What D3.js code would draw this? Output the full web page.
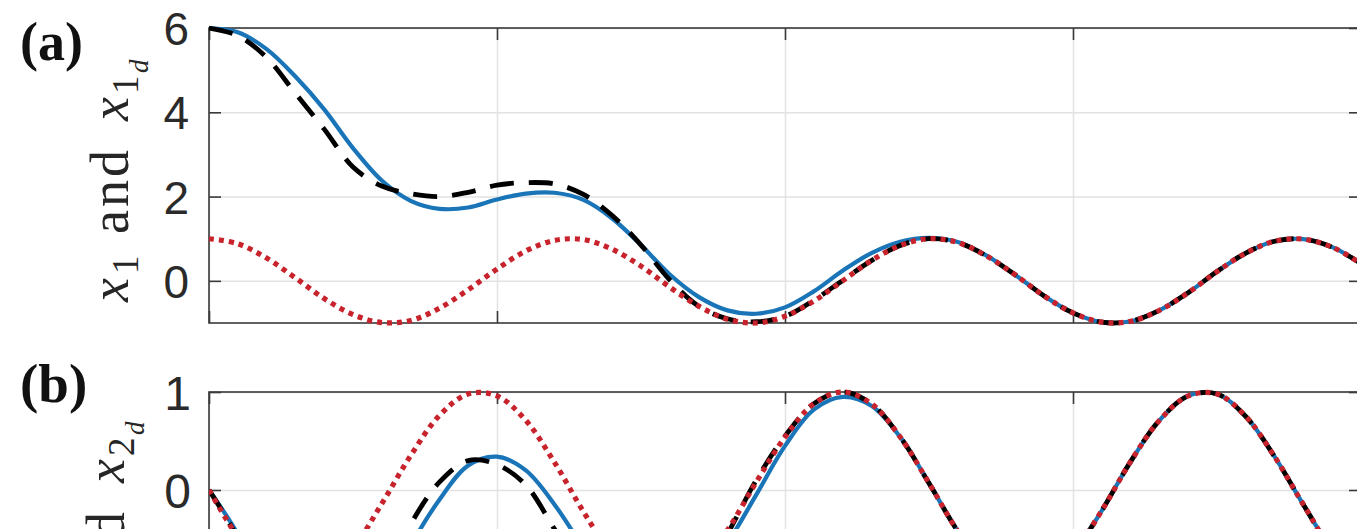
<!DOCTYPE html>
<html>
<head>
<meta charset="utf-8">
<script src="https://cdn.jsdelivr.net/npm/d3@7"></script>
<style>
  body { margin: 0; background: #fff; overflow: hidden; }
  svg { display: block; }
</style>
</head>
<body>
<div id="chart"></div>
<script>
// time samples (s)
var timeSteps = [0, 0.5, 1, 1.5, 2, 2.5, 3, 3.5, 4, 4.5, 5, 5.5, 6, 6.5, 7, 7.5, 8, 8.5, 9, 9.5,
  10, 10.5, 11, 11.5, 12, 12.5, 13, 13.5, 14, 14.5, 15, 15.5, 16, 16.5, 17, 17.5, 18, 18.5, 19, 19.5, 20];

// panel (a): x1 (solid), comparison (dashed), x1d (dotted)
var x1Actual = [6.0, 5.9, 5.5, 4.85, 4.07, 3.15, 2.38, 1.9, 1.71, 1.74, 1.93, 2.07, 2.09, 1.92, 1.48, 0.85, 0.15, -0.38, -0.7, -0.78,
  -0.63, -0.25, 0.24, 0.66, 0.93, 1.02, 0.92, 0.6, 0.14, -0.36, -0.76, -0.98, -0.96, -0.7, -0.28, 0.22, 0.66, 0.94, 0.99, 0.8, 0.41];
var x1Dashed = [6.0, 5.82, 5.3, 4.45, 3.6, 2.7, 2.25, 2.07, 2.0, 2.1, 2.27, 2.33, 2.3, 2.05, 1.55, 0.85, 0.02, -0.6, -0.9, -0.97,
  -0.84, -0.46, 0.01, 0.48, 0.84, 1.0, 0.91, 0.59, 0.14, -0.36, -0.76, -0.98, -0.96, -0.7, -0.28, 0.22, 0.66, 0.94, 0.99, 0.8, 0.41];
var x1Desired = [1.0, 0.88, 0.54, 0.07, -0.42, -0.8, -0.99, -0.94, -0.65, -0.21, 0.28, 0.71, 0.96, 0.98, 0.75, 0.35, -0.15, -0.6, -0.91, -1.0,
  -0.84, -0.48, 0.0, 0.48, 0.84, 1.0, 0.91, 0.59, 0.14, -0.36, -0.76, -0.98, -0.96, -0.7, -0.28, 0.22, 0.66, 0.94, 0.99, 0.8, 0.41];

// panel (b): x2 (solid), comparison (dashed), x2d (dotted)
var x2Actual = [0, -0.45, -1.05, -1.5, -1.75, -1.7, -1.3, -0.58, -0.1, 0.25, 0.34, 0.2, -0.15, -0.6, -1.1, -1.35, -1.3, -1.0, -0.55, -0.05,
  0.45, 0.82, 0.95, 0.86, 0.54, 0.07, -0.42, -0.8, -0.99, -0.94, -0.65, -0.21, 0.29, 0.71, 0.96, 0.98, 0.75, 0.34, -0.15, -0.61, -0.91];
var x2Dashed = [0, -0.5, -1.3, -1.75, -1.7, -1.35, -0.95, -0.35, 0.08, 0.3, 0.26, 0.05, -0.4, -0.85, -1.25, -1.45, -1.35, -0.95, -0.45, 0.1,
  0.55, 0.88, 1.0, 0.88, 0.54, 0.07, -0.42, -0.8, -0.99, -0.94, -0.65, -0.21, 0.29, 0.71, 0.96, 0.98, 0.75, 0.34, -0.15, -0.61, -0.91];
var x2Desired = [0, -0.48, -0.84, -1.0, -0.91, -0.6, -0.14, 0.35, 0.76, 0.98, 0.96, 0.71, 0.28, -0.22, -0.66, -0.94, -0.99, -0.8, -0.41, 0.08,
  0.54, 0.88, 1.0, 0.88, 0.54, 0.07, -0.42, -0.8, -0.99, -0.94, -0.65, -0.21, 0.29, 0.71, 0.96, 0.98, 0.75, 0.34, -0.15, -0.61, -0.91];

var xTicks = [0, 5, 10, 15, 20];
var yTicksA = [0, 2, 4, 6];
var yTicksB = [0, 1];

var svgWidth = 1357;
var svgHeight = 529;

var svg = d3.select("#chart")
  .append("svg")
  .attr("width", svgWidth)
  .attr("height", svgHeight);

var xScale = d3.scaleLinear()
  .domain([0, 20])
  .range([209, 1361]);

var axisColor = "#3a3a3a";
var gridColor = "#e2e2e2";
var tickLen = 12;

function drawPanel(p) {
  var yScale = d3.scaleLinear().domain(p.domain).range([p.bottom, p.top]);
  var left = xScale.range()[0], right = xScale.range()[1];

  var g = svg.append("g");

  // grid
  g.append("g")
    .attr("transform", `translate(0, ${p.bottom})`)
    .call(d3.axisBottom(xScale).tickValues(xTicks).tickSize(-(p.bottom - p.top)).tickFormat(""))
    .call(a => a.select(".domain").remove())
    .selectAll("line").attr("stroke", gridColor).attr("stroke-width", 1.5);
  g.append("g")
    .attr("transform", `translate(${left}, 0)`)
    .call(d3.axisLeft(yScale).tickValues(p.ticks).tickSize(-(right - left)).tickFormat(""))
    .call(a => a.select(".domain").remove())
    .selectAll("line").attr("stroke", gridColor).attr("stroke-width", 1.5);

  // box
  g.append("rect")
    .attr("x", left).attr("y", p.top)
    .attr("width", right - left).attr("height", p.bottom - p.top)
    .attr("fill", "none").attr("stroke", axisColor).attr("stroke-width", 1.6);

  // inward ticks on all four sides
  var axes = [
    [d3.axisBottom(xScale).tickValues(xTicks).tickSize(-tickLen).tickFormat(""), `translate(0, ${p.bottom})`],
    [d3.axisTop(xScale).tickValues(xTicks).tickSize(-tickLen).tickFormat(""), `translate(0, ${p.top})`],
    [d3.axisRight(yScale).tickValues(p.ticks).tickSize(-tickLen).tickFormat(""), `translate(${right}, 0)`],
    [d3.axisLeft(yScale).tickValues(p.ticks).tickSize(-tickLen).tickPadding(p.pad).tickFormat(d3.format("d")), `translate(${left}, 0)`]
  ];
  axes.forEach(function(a) {
    var ax = g.append("g").attr("transform", a[1]).call(a[0]);
    ax.select(".domain").remove();
    ax.selectAll("line").attr("stroke", axisColor).attr("stroke-width", 1.6);
    ax.selectAll("text")
      .attr("fill", "#2a2a2a")
      .attr("font-family", "'Liberation Sans', Arial, sans-serif")
      .attr("font-size", p.fontSize)
      .attr("dy", "0.36em");
  });

  // curves
  var clipId = "clip-" + p.name;
  svg.append("clipPath").attr("id", clipId)
    .append("rect")
    .attr("x", left).attr("y", p.top - 5)
    .attr("width", right - left).attr("height", p.bottom - p.top + 10);

  var line = d3.line()
    .x((d, i) => xScale(timeSteps[i]))
    .y(d => yScale(d))
    .curve(d3.curveCatmullRom.alpha(0.5));

  var lines = g.append("g").attr("clip-path", `url(#${clipId})`).attr("fill", "none");
  lines.append("path").datum(p.actual)
    .attr("d", line).attr("stroke", "#1A75B8").attr("stroke-width", 4.2);
  lines.append("path").datum(p.dashed)
    .attr("d", line).attr("stroke", "#000").attr("stroke-width", 4.8)
    .attr("stroke-dasharray", "24,15");
  lines.append("path").datum(p.desired)
    .attr("d", line).attr("stroke", "#C8232C").attr("stroke-width", 5.2)
    .attr("stroke-dasharray", "5,5");

  // panel letter
  svg.append("text")
    .attr("x", 20).attr("y", p.letterY)
    .attr("font-family", "'Liberation Serif', 'Times New Roman', serif")
    .attr("font-weight", "bold")
    .attr("font-size", p.letterSize)
    .attr("fill", "#111")
    .text(`(${p.name})`);

  // y label: x_k and x_{k_d}
  var lab = svg.append("text")
    .attr("transform", `translate(${p.labelX}, ${p.labelY}) rotate(-90)`)
    .attr("font-family", "'Liberation Serif', 'Times New Roman', serif")
    .attr("font-size", 54)
    .attr("fill", "#262626");
  lab.append("tspan").attr("x", 0).attr("y", 0).attr("font-style", "italic").text("x");
  lab.append("tspan").attr("x", 28).attr("y", 10).attr("font-size", 37).text(p.index);
  lab.append("tspan").attr("x", 68).attr("y", 0).attr("letter-spacing", 3).text("and");
  lab.append("tspan").attr("x", 181).attr("y", 0).attr("font-style", "italic").text("x");
  lab.append("tspan").attr("x", 208).attr("y", 10).attr("font-size", 37).text(p.index);
  lab.append("tspan").attr("x", 229).attr("y", 20).attr("font-size", 27).attr("font-style", "italic").text("d");
}

drawPanel({
  name: "a", index: "1", top: 28, bottom: 323, domain: [-1, 6], ticks: yTicksA,
  actual: x1Actual, dashed: x1Dashed, desired: x1Desired,
  pad: 20, fontSize: 46, letterY: 60, letterSize: 54, labelX: 128, labelY: 302
});

drawPanel({
  name: "b", index: "2", top: 392, bottom: 686, domain: [-2, 1], ticks: yTicksB,
  actual: x2Actual, dashed: x2Dashed, desired: x2Desired,
  pad: 18, fontSize: 48, letterY: 402, letterSize: 55, labelX: 124, labelY: 664
});
</script>
</body>
</html>
